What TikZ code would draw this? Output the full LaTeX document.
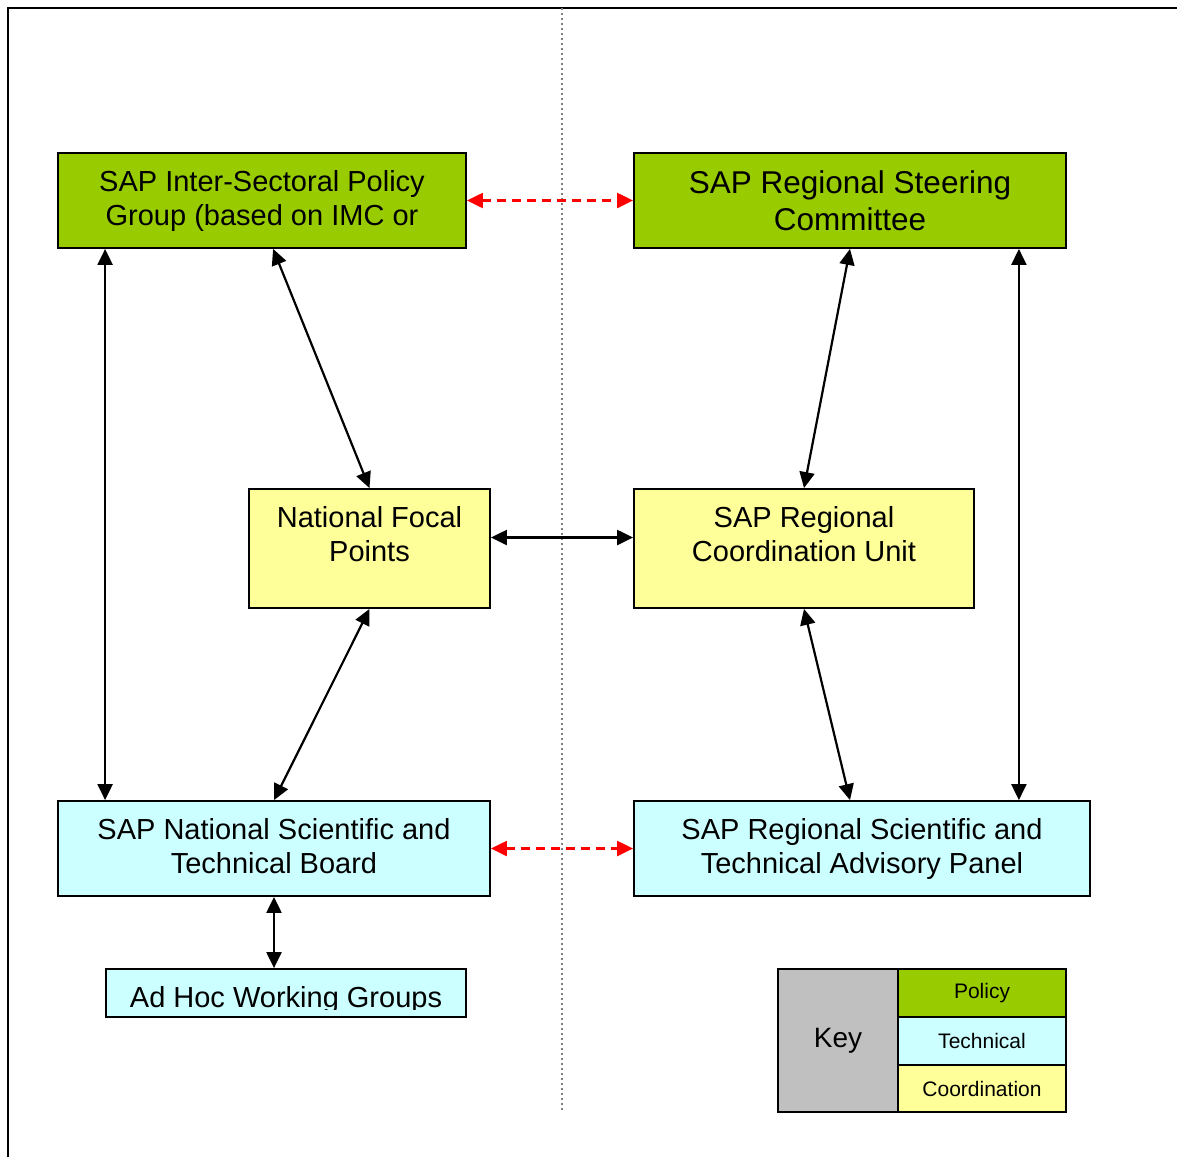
\documentclass[tikz,border=0pt]{standalone}
\usepackage{fontspec}
\setmainfont{Liberation Sans}
\usetikzlibrary{arrows.meta}
\definecolor{policygreen}{HTML}{99CC00}
\definecolor{techcyan}{HTML}{CCFFFF}
\definecolor{coordyellow}{HTML}{FFFF99}
\definecolor{keygrey}{HTML}{C0C0C0}
\newcommand{\arw}{{Triangle[length=16pt,width=15pt]}-{Triangle[length=16pt,width=15pt]}}

\begin{document}
\begin{tikzpicture}[x=1pt,y=-1pt,
  boxnode/.style={draw,line width=1.8pt,inner sep=0pt,align=center,
    font=\fontsize{29}{34}\selectfont},
  policybox/.style={boxnode,fill=policygreen},
  techbox/.style={boxnode,fill=techcyan},
  coordbox/.style={boxnode,fill=coordyellow},
  keycell/.style={draw,line width=1.8pt,inner sep=0pt,minimum width=168,
    font=\fontsize{21}{25}\selectfont},
  link/.style={line width=2.2pt,\arw},
  redlink/.style={line width=2.2pt,red,dash pattern=on 9pt off 6pt,\arw}]
\useasboundingbox (0,0) rectangle (1177,1157);
% frame and divider
\draw[line width=2pt] (8,1157) -- (8,8) -- (1177,8);
\draw[gray,line width=1.6pt,dash pattern=on 1.6pt off 3.4pt] (562,8) -- (562,1112);
% policy
\node[policybox,minimum width=408,minimum height=95] (pisp) at (262,200.5)
  {SAP Inter-Sectoral Policy\\Group (based on IMC or};
\node[policybox,minimum width=432,minimum height=95,
  font=\fontsize{31.5}{37}\selectfont] (rsc) at (850,200.5)
  {SAP Regional Steering\\Committee};
% coordination
\node[coordbox,minimum width=241,minimum height=119] (nfp) at (369.5,548.5)
  {\raisebox{11pt}[\height][\depth]{\begin{tabular}{@{}c@{}}National Focal\\Points\end{tabular}}};
\node[coordbox,minimum width=340,minimum height=119] (rcu) at (804,548.5)
  {\raisebox{11pt}[\height][\depth]{\begin{tabular}{@{}c@{}}SAP Regional\\Coordination Unit\end{tabular}}};
% technical
\node[techbox,minimum width=432,minimum height=95] (nstb) at (274,848.5)
  {\raisebox{-1pt}[\height][\depth]{\begin{tabular}{@{}c@{}}SAP National Scientific and\\Technical Board\end{tabular}}};
\node[techbox,minimum width=456,minimum height=95] (rstap) at (862,848.5)
  {\raisebox{-1pt}[\height][\depth]{\begin{tabular}{@{}c@{}}SAP Regional Scientific and\\Technical Advisory Panel\end{tabular}}};
\node[techbox,minimum width=360,minimum height=48] (adhoc) at (286,993) {};
\begin{scope}
\clip (adhoc.north west) rectangle ([yshift=8]adhoc.south east);
\node[font=\fontsize{29}{34}\selectfont,anchor=base] (adhoctext) at (286,1007)
  {Ad Hoc Working Groups};
\end{scope}
% key
\node[draw,line width=1.8pt,fill=keygrey,minimum width=120,minimum height=143,
  font=\fontsize{28}{32}\selectfont] (key) at (838,1040.5) {Key};
\node[keycell,fill=policygreen,minimum height=48] (keypol) at (982,993) {Policy};
\node[keycell,fill=techcyan,minimum height=48] (keytech) at (982,1041) {Technical};
\node[keycell,fill=coordyellow,minimum height=47] (keycoord) at (982,1088.5) {Coordination};
% links
\draw[redlink] (pisp.east) -- (rsc.west);
\draw[redlink] (nstb.east) -- (rstap.west);
\draw[link] ([xshift=48]pisp.south west) -- ([xshift=48]nstb.north west);
\draw[link] ([xshift=216]pisp.south west) -- (nfp.north);
\draw[link] (nfp.south) -- (nstb.north);
\draw[link] ([yshift=11]nfp.east) -- ([yshift=11]rcu.west);
\draw[link] (rsc.south) -- (rcu.north);
\draw[link] (rcu.south) -- ([xshift=-12]rstap.north);
\draw[link] ([xshift=-48]rsc.south east) -- ([xshift=-72]rstap.north east);
\draw[link] (nstb.south) -- (nstb.south |- adhoc.north);
\end{tikzpicture}
\end{document}
